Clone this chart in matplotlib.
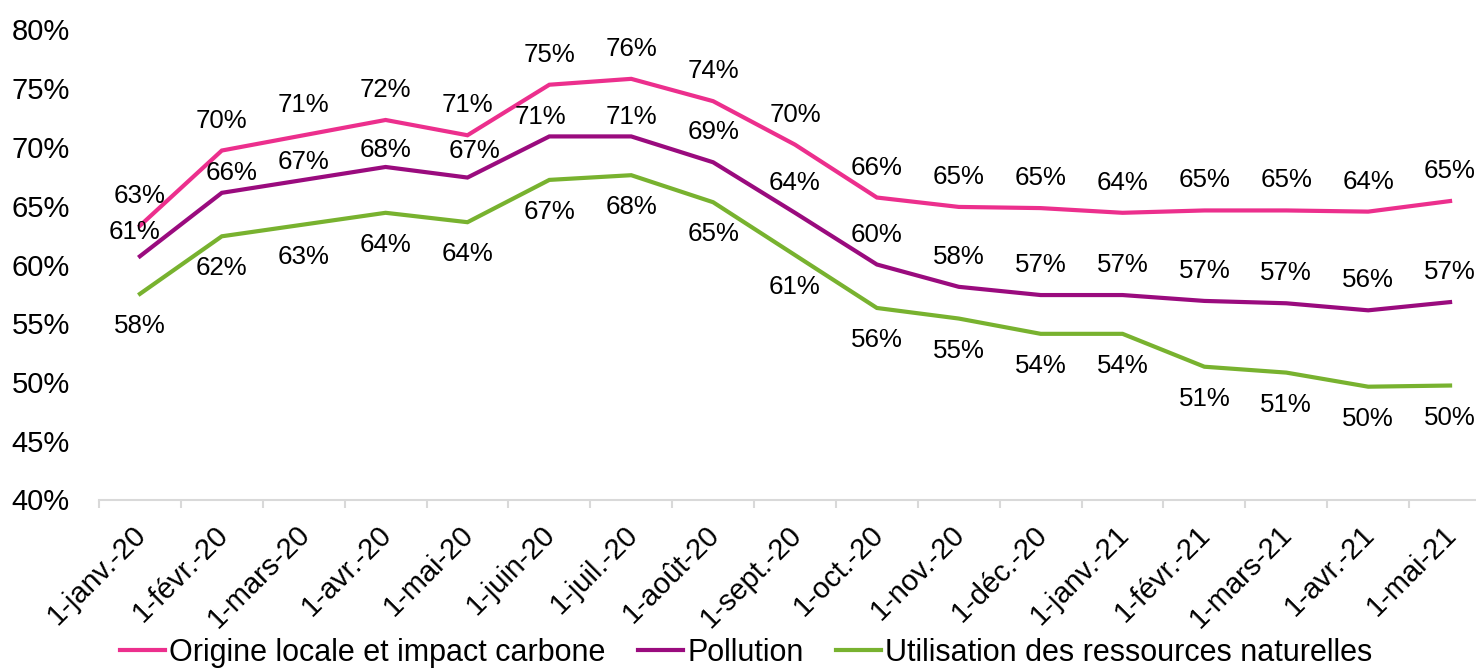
import matplotlib
matplotlib.use("Agg")
import matplotlib.pyplot as plt
from matplotlib.transforms import ScaledTranslation

plt.rcParams['font.family'] = ['Liberation Sans', 'DejaVu Sans']

categories = ["1-janv.-20", "1-févr.-20", "1-mars-20", "1-avr.-20", "1-mai-20", "1-juin-20",
              "1-juil.-20", "1-août-20", "1-sept.-20", "1-oct.-20", "1-nov.-20", "1-déc.-20",
              "1-janv.-21", "1-févr.-21", "1-mars-21", "1-avr.-21", "1-mai-21"]

origine = [63.3, 69.7, 71.0, 72.3, 71.0, 75.3, 75.8, 73.9, 70.2, 65.7, 64.9, 64.8,
           64.4, 64.6, 64.6, 64.5, 65.4]
pollution = [60.7, 66.1, 67.2, 68.3, 67.4, 70.9, 70.9, 68.7, 64.4, 60.0, 58.1, 57.4,
             57.4, 56.9, 56.7, 56.1, 56.8]
ressources = [57.5, 62.4, 63.4, 64.4, 63.6, 67.2, 67.6, 65.3, 60.8, 56.3, 55.4, 54.1,
              54.1, 51.3, 50.8, 49.6, 49.7]

series_names = ["Origine locale et impact carbone", "Pollution",
                "Utilisation des ressources naturelles"]
colors = ["#EC2F8D", "#9A0B7E", "#78B22F"]

# label nudges (pixels): (dx, dy) for pollution labels
poll_nudge = [(-5, 24), (10, 20), (0, 18), (0, 17), (7, 27), (-9, 19), (0, 19)] + [(0, 30)] * 10

W, H, DPI = 1476, 668, 100
fig = plt.figure(figsize=(W / DPI, H / DPI), dpi=DPI)
ax = fig.add_axes([99 / W, 168.5 / H, (1491 - 99) / W, 470 / H])

x = list(range(len(categories)))
lw = 3.0
ax.plot(x, [v / 100 for v in origine], color=colors[0], lw=lw, label=series_names[0], solid_joinstyle='miter')
ax.plot(x, [v / 100 for v in pollution], color=colors[1], lw=lw, label=series_names[1], solid_joinstyle='miter')
ax.plot(x, [v / 100 for v in ressources], color=colors[2], lw=lw, label=series_names[2], solid_joinstyle='miter')

px = 72 / DPI
lab_fs = 18.6
for i in x:
    ax.annotate(f"{round(origine[i]):.0f}%", (i, origine[i] / 100), xytext=(0, 30 * px),
                textcoords='offset points', ha='center', va='center', fontsize=lab_fs)
    dx, dy = poll_nudge[i]
    ax.annotate(f"{round(pollution[i]):.0f}%", (i, pollution[i] / 100), xytext=(dx * px, dy * px),
                textcoords='offset points', ha='center', va='center', fontsize=lab_fs)
    ax.annotate(f"{round(ressources[i]):.0f}%", (i, ressources[i] / 100), xytext=(0, -32 * px),
                textcoords='offset points', ha='center', va='center', fontsize=lab_fs)

ax.set_xlim(-0.5, len(categories) - 0.5)
ax.set_ylim(0.40, 0.80)
ax.set_yticks([0.40, 0.45, 0.50, 0.55, 0.60, 0.65, 0.70, 0.75, 0.80])
ax.set_yticklabels([f"{int(round(v * 100))}%" for v in ax.get_yticks()], fontsize=21)
ax.tick_params(axis='y', length=0, pad=29 * px)

ax.set_xticks(x)
ax.set_xticklabels(categories, rotation=45, ha='right', rotation_mode='anchor', fontsize=21)
ax.tick_params(axis='x', which='major', length=0, pad=15)
ax.set_xticks([i - 0.5 for i in range(len(categories) + 1)], minor=True)
ax.tick_params(axis='x', which='minor', length=8 * px, width=1.5, color='#D9D9D9', direction='out')
for lbl in ax.get_xticklabels():
    lbl.set_transform(lbl.get_transform() + ScaledTranslation(-8 / DPI, 0, fig.dpi_scale_trans))

for s in ['top', 'right', 'left']:
    ax.spines[s].set_visible(False)
ax.spines['bottom'].set_color('#D9D9D9')
ax.spines['bottom'].set_linewidth(1.5)

fig.legend(loc='center', bbox_to_anchor=(746 / W, 1 - 653 / H), ncol=3, frameon=False,
           fontsize=22, handlelength=1.5, handletextpad=0.12, columnspacing=1.05,
           borderpad=0, borderaxespad=0)

fig.savefig("out.png", dpi=DPI)
